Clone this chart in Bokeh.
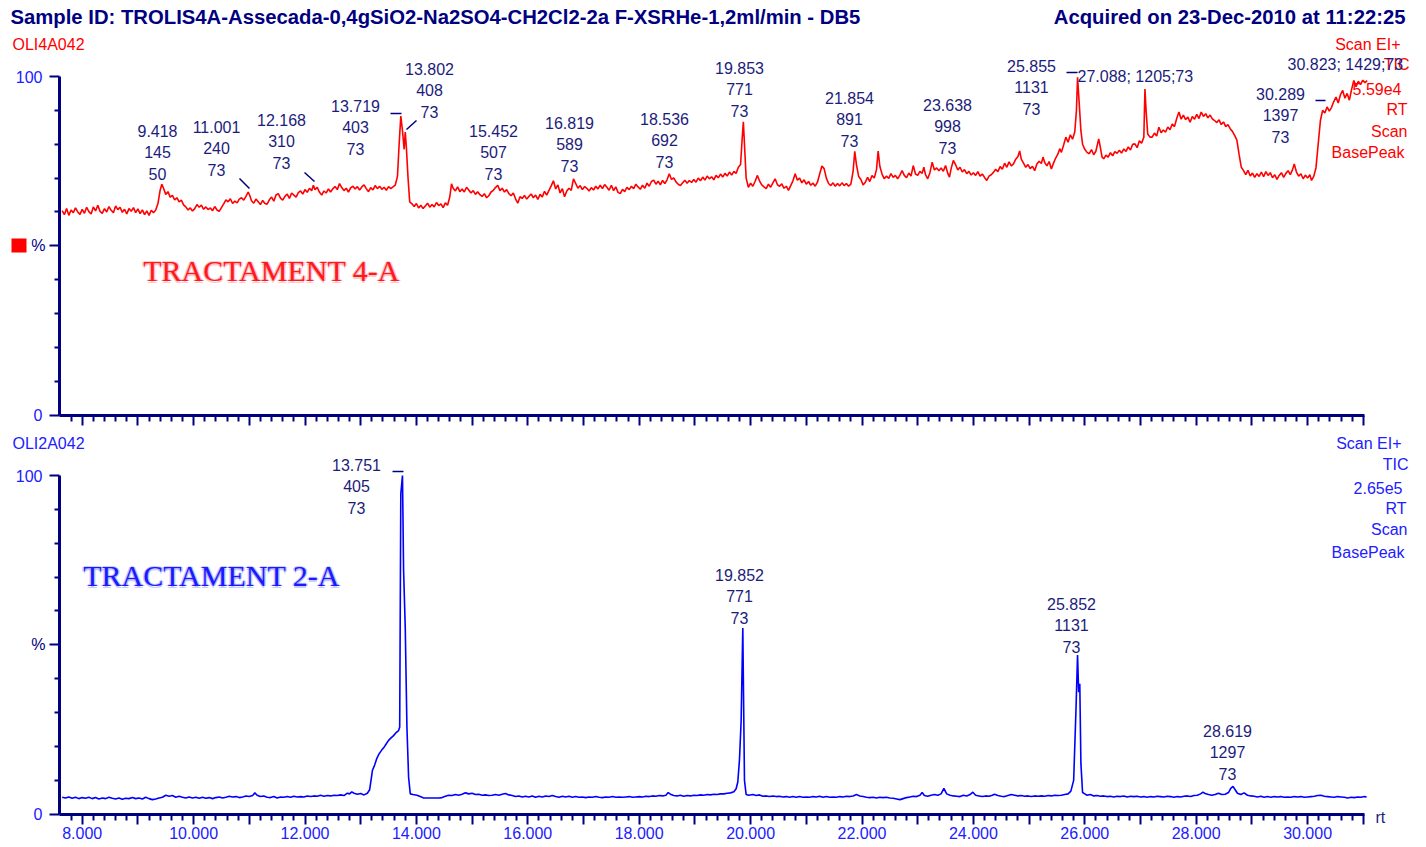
from bokeh.plotting import figure
from bokeh.models import Range1d, FixedTicker, Label, BoxAnnotation, LinearAxis
from bokeh.embed import file_html
from bokeh.resources import INLINE

# ---------------- data ----------------
rt_top = [7.64, 7.68, 7.72, 7.76, 7.80, 7.84, 7.88, 7.92, 7.96, 8.00, 8.04, 8.08, 8.12, 8.16, 8.20, 8.24, 8.28, 8.32,
          8.36, 8.40, 8.44, 8.48, 8.52, 8.56, 8.60, 8.64, 8.68, 8.72, 8.76, 8.80, 8.84, 8.88, 8.92, 8.96, 9.00, 9.04,
          9.08, 9.12, 9.16, 9.20, 9.24, 9.28, 9.32, 9.36, 9.40, 9.43, 9.46, 9.50, 9.54, 9.58, 9.62, 9.66, 9.70, 9.74,
          9.78, 9.82, 9.86, 9.90, 9.94, 9.98, 10.02, 10.06, 10.10, 10.14, 10.18, 10.22, 10.26, 10.30, 10.34, 10.38,
          10.42, 10.46, 10.50, 10.54, 10.58, 10.62, 10.66, 10.70, 10.74, 10.78, 10.82, 10.86, 10.90, 10.94, 10.98,
          11.01, 11.04, 11.08, 11.12, 11.16, 11.20, 11.24, 11.28, 11.32, 11.36, 11.40, 11.44, 11.48, 11.52, 11.56,
          11.60, 11.64, 11.68, 11.72, 11.76, 11.80, 11.84, 11.88, 11.92, 11.96, 12.00, 12.04, 12.08, 12.12, 12.15,
          12.18, 12.22, 12.26, 12.30, 12.34, 12.38, 12.42, 12.46, 12.50, 12.54, 12.58, 12.62, 12.66, 12.70, 12.74,
          12.78, 12.82, 12.86, 12.90, 12.94, 12.98, 13.02, 13.06, 13.10, 13.14, 13.18, 13.22, 13.26, 13.30, 13.34,
          13.38, 13.42, 13.46, 13.50, 13.54, 13.58, 13.62, 13.66, 13.69, 13.72, 13.75, 13.78, 13.80, 13.82, 13.85,
          13.88, 13.92, 13.96, 14.00, 14.04, 14.08, 14.12, 14.16, 14.20, 14.24, 14.28, 14.32, 14.36, 14.40, 14.44,
          14.48, 14.52, 14.56, 14.60, 14.63, 14.66, 14.70, 14.74, 14.78, 14.82, 14.86, 14.90, 14.94, 14.98, 15.02,
          15.06, 15.10, 15.14, 15.18, 15.22, 15.26, 15.30, 15.34, 15.38, 15.42, 15.46, 15.50, 15.54, 15.58, 15.62,
          15.66, 15.70, 15.74, 15.78, 15.82, 15.86, 15.90, 15.94, 15.98, 16.02, 16.06, 16.10, 16.14, 16.18, 16.22,
          16.26, 16.30, 16.34, 16.38, 16.42, 16.46, 16.50, 16.54, 16.58, 16.62, 16.66, 16.70, 16.74, 16.78, 16.82,
          16.86, 16.90, 16.94, 16.98, 17.02, 17.06, 17.10, 17.14, 17.18, 17.22, 17.26, 17.30, 17.34, 17.38, 17.42,
          17.46, 17.50, 17.54, 17.58, 17.62, 17.66, 17.70, 17.74, 17.78, 17.82, 17.86, 17.90, 17.94, 17.98, 18.02,
          18.06, 18.10, 18.14, 18.18, 18.22, 18.26, 18.30, 18.34, 18.38, 18.42, 18.46, 18.50, 18.54, 18.58, 18.62,
          18.66, 18.70, 18.74, 18.78, 18.82, 18.86, 18.90, 18.94, 18.98, 19.02, 19.06, 19.10, 19.14, 19.18, 19.22,
          19.26, 19.30, 19.34, 19.38, 19.42, 19.46, 19.50, 19.54, 19.58, 19.62, 19.66, 19.70, 19.74, 19.78, 19.82,
          19.85, 19.87, 19.89, 19.92, 19.96, 20.00, 20.04, 20.08, 20.12, 20.16, 20.20, 20.24, 20.28, 20.32, 20.36,
          20.40, 20.44, 20.48, 20.52, 20.56, 20.60, 20.64, 20.68, 20.72, 20.76, 20.80, 20.84, 20.88, 20.92, 20.96,
          21.00, 21.04, 21.08, 21.12, 21.16, 21.20, 21.24, 21.28, 21.32, 21.36, 21.40, 21.44, 21.48, 21.52, 21.56,
          21.60, 21.64, 21.68, 21.72, 21.76, 21.80, 21.84, 21.87, 21.90, 21.94, 21.98, 22.02, 22.06, 22.10, 22.14,
          22.18, 22.22, 22.26, 22.29, 22.32, 22.36, 22.40, 22.44, 22.48, 22.52, 22.56, 22.60, 22.64, 22.68, 22.72,
          22.76, 22.80, 22.84, 22.88, 22.92, 22.96, 23.00, 23.04, 23.08, 23.11, 23.14, 23.18, 23.22, 23.26, 23.30,
          23.34, 23.38, 23.42, 23.46, 23.50, 23.54, 23.57, 23.60, 23.64, 23.68, 23.72, 23.76, 23.80, 23.84, 23.88,
          23.92, 23.96, 24.00, 24.04, 24.08, 24.12, 24.16, 24.20, 24.24, 24.28, 24.32, 24.36, 24.40, 24.44, 24.48,
          24.52, 24.56, 24.60, 24.64, 24.68, 24.72, 24.76, 24.80, 24.83, 24.86, 24.90, 24.94, 24.98, 25.02, 25.06,
          25.10, 25.14, 25.18, 25.22, 25.25, 25.28, 25.32, 25.36, 25.40, 25.44, 25.48, 25.52, 25.55, 25.58, 25.62,
          25.66, 25.70, 25.74, 25.78, 25.82, 25.85, 25.87, 25.90, 25.93, 25.96, 26.00, 26.04, 26.08, 26.12, 26.16,
          26.20, 26.25, 26.28, 26.31, 26.34, 26.38, 26.42, 26.46, 26.50, 26.54, 26.58, 26.62, 26.66, 26.70, 26.74,
          26.78, 26.82, 26.86, 26.90, 26.94, 26.98, 27.02, 27.06, 27.08, 27.10, 27.13, 27.17, 27.21, 27.25, 27.29,
          27.33, 27.37, 27.41, 27.45, 27.49, 27.53, 27.57, 27.61, 27.65, 27.69, 27.73, 27.77, 27.81, 27.85, 27.89,
          27.93, 27.97, 28.01, 28.05, 28.09, 28.13, 28.17, 28.21, 28.25, 28.29, 28.33, 28.37, 28.41, 28.45, 28.49,
          28.53, 28.57, 28.61, 28.65, 28.69, 28.73, 28.77, 28.81, 28.85, 28.89, 28.93, 28.97, 29.01, 29.05, 29.09,
          29.13, 29.17, 29.21, 29.25, 29.29, 29.33, 29.37, 29.41, 29.45, 29.49, 29.53, 29.57, 29.61, 29.65, 29.69,
          29.73, 29.76, 29.80, 29.84, 29.88, 29.92, 29.96, 30.00, 30.04, 30.07, 30.11, 30.15, 30.19, 30.23, 30.27,
          30.31, 30.35, 30.39, 30.43, 30.47, 30.51, 30.55, 30.59, 30.63, 30.67, 30.71, 30.75, 30.79, 30.83, 30.87,
          30.91, 30.95, 30.99, 31.03, 31.07]
tic_top = [60.4, 59.2, 61.0, 59.0, 60.6, 59.8, 61.2, 60.0, 59.3, 60.8, 59.6, 61.4, 60.1, 59.4, 61.5, 60.3, 62.0, 60.2,
           59.6, 61.0, 60.0, 61.6, 60.5, 59.8, 61.8, 60.7, 61.4, 59.9, 60.8, 59.4, 61.0, 60.2, 61.3, 59.8, 60.9, 59.5,
           60.6, 59.2, 60.3, 59.0, 60.5, 59.8, 60.6, 62.5, 66.5, 68.2, 67.0, 65.2, 66.0, 64.4, 64.9, 63.6, 64.2, 63.0,
           63.5, 62.1, 61.5, 60.6, 61.2, 60.3, 61.0, 62.2, 61.4, 62.0, 60.8, 61.5, 60.7, 61.2, 60.4, 61.6,
           60.6, 60.2, 61.3, 62.4, 63.6, 63.0, 63.9, 62.5, 63.2, 62.7, 63.8, 64.2, 63.5, 64.6, 65.9,
           64.8, 63.3, 62.6, 63.8, 63.0, 62.2, 63.4, 62.5, 62.3, 63.6, 64.4, 63.2, 65.0, 65.4, 64.1,
           63.5, 64.6, 65.3, 64.0, 65.6, 65.0, 64.4, 65.7, 66.2, 65.3, 66.6, 65.8, 67.0, 66.3, 67.9,
           66.6, 67.3, 65.8, 65.0, 66.2, 65.6, 66.8, 65.9, 66.9, 67.5, 66.6, 68.4, 67.2, 66.3, 67.0,
           65.9, 67.1, 67.6, 66.8, 67.5, 66.5, 67.4, 68.0, 66.9, 66.0, 67.2, 66.5, 67.8, 66.9, 67.6,
           66.7, 67.3, 66.4, 67.5, 66.9, 67.4, 67.9, 70.5, 80.0, 88.3, 84.0, 78.5, 83.6, 79.0, 70.0,
           63.0, 62.4, 61.6, 62.5, 61.2, 62.0, 61.0, 61.8, 62.6, 61.4, 62.2, 61.5, 62.8, 61.9, 62.4,
           61.3, 62.7, 62.0, 64.5, 68.3, 67.0, 66.2, 67.4, 66.0, 66.8, 65.9, 67.3, 66.5, 65.6, 66.3,
           65.2, 66.0, 65.1, 64.6, 65.4, 64.2, 64.8, 65.9, 66.4, 67.2, 67.9, 66.3, 67.0, 65.9, 66.6,
           65.4, 64.8, 65.6, 63.9, 62.6, 64.5, 64.0, 64.9, 63.8, 64.6, 65.3, 64.2, 65.0, 63.7, 65.2,
           64.4, 66.1, 65.0, 66.4, 67.7, 69.2, 66.8, 68.0, 65.6, 66.9, 64.5, 66.2, 67.0, 66.4, 69.8,
           68.4, 67.0, 67.8, 66.6, 67.5, 67.0, 66.2, 67.2, 66.5, 67.6, 66.8, 67.9, 66.9, 68.1, 67.3,
           66.4, 67.9, 66.3, 67.4, 65.8, 65.4, 66.7, 66.0, 67.3, 66.6, 67.6, 66.9, 68.2, 67.4, 66.7,
           67.9, 67.0, 68.5, 67.6, 69.0, 69.4, 68.2, 69.1, 68.0, 69.3, 68.4, 69.5, 71.3, 69.6, 70.1,
           68.9, 68.2, 67.8, 68.6, 69.4, 68.5, 69.3, 68.7, 69.6, 68.8, 70.0, 69.2, 70.3, 69.4, 70.6,
           69.8, 70.4, 69.5, 70.8, 70.1, 71.2, 70.3, 71.4, 70.6, 71.8, 70.9, 72.0, 71.4, 73.2, 74.0,
           82.0, 86.6, 80.0, 70.0, 67.3, 68.5, 67.6, 69.0, 70.8, 69.2, 68.0, 67.4, 66.9, 68.2, 67.3,
           68.6, 69.8, 68.1, 67.6, 68.3, 67.0, 67.6, 66.4, 67.8, 69.2, 71.3, 69.4, 70.0, 68.6, 69.5,
           68.2, 69.0, 67.9, 68.5, 67.6, 68.8, 71.2, 73.6, 72.8, 70.0, 68.4, 67.8, 68.6, 67.6, 68.4,
           67.7, 68.6, 67.8, 68.4, 67.6, 68.2, 72.0, 77.9, 74.0, 70.5, 69.6, 68.0, 68.8, 70.2, 69.0,
           70.8, 70.0, 72.5, 78.0, 73.5, 71.2, 69.8, 70.6, 69.9, 71.3, 70.2, 70.8, 69.8, 70.9, 72.2,
           70.8, 70.1, 71.5, 70.6, 73.7, 71.2, 70.8, 72.0, 71.4, 73.2, 71.0, 69.8, 71.6, 74.7, 72.4,
           73.0, 72.2, 73.0, 72.0, 73.7, 71.4, 70.3, 72.8, 75.2, 74.0, 72.4, 73.2, 71.8, 72.5, 71.3,
           72.0, 70.9, 71.6, 70.8, 71.9, 70.6, 71.2, 70.2, 69.3, 70.6, 71.0, 71.7, 72.6, 71.9, 73.4,
           72.6, 74.4, 73.2, 74.8, 73.6, 74.2, 75.6, 76.4, 78.0, 75.6, 74.4, 73.2, 74.0, 72.8, 73.5,
           72.2, 74.2, 75.0, 74.3, 76.2, 74.6, 73.6, 74.9, 72.7, 74.5, 76.0, 77.2, 78.7, 77.6, 79.8,
           82.1, 80.6, 82.8, 81.5, 83.6, 90.0, 99.8, 92.0, 84.0, 80.0, 78.5, 77.6, 77.2, 78.4, 76.9,
           78.0, 81.6, 79.0, 76.2, 75.7, 76.8, 76.2, 77.5, 76.6, 77.8, 77.3, 78.2, 77.4, 78.6, 77.9,
           79.2, 78.3, 80.0, 80.1, 79.0, 81.0, 80.3, 82.1, 96.3, 90.0, 83.0, 82.1, 82.1, 83.3, 82.4,
           85.0, 83.4, 84.2, 83.6, 85.1, 84.3, 86.0, 85.2, 87.6, 89.5, 87.4, 88.6, 87.3, 88.0, 86.5,
           88.2, 87.4, 88.8, 87.6, 89.5, 88.2, 89.0, 87.8, 88.6, 87.5, 87.0, 86.4, 87.2, 85.8, 86.6,
           85.2, 85.8, 84.6, 83.8, 82.6, 81.2, 77.0, 73.2, 72.2, 71.0, 72.3, 70.6, 71.5, 70.2, 71.3,
           70.5, 71.8, 70.4, 71.9, 70.8, 71.6, 70.1, 71.0, 69.6, 70.8, 71.6, 70.2, 71.4, 72.2, 71.0,
           72.5, 74.2, 71.8, 70.6, 71.3, 69.8, 70.9, 70.0, 71.0, 69.3, 70.5, 73.0, 80.0, 87.0, 90.0,
           89.2, 91.0, 89.8, 90.9, 92.6, 93.9, 92.2, 94.6, 95.9, 93.6, 95.0, 93.0, 96.2, 98.8, 97.0,
           98.6, 97.6, 98.9, 98.2, 98.8]

rt_bottom = [7.64, 7.70, 7.76, 7.82, 7.88, 7.94, 8.00, 8.06, 8.12, 8.18, 8.24, 8.30, 8.36, 8.42, 8.48, 8.54, 8.60,
             8.66, 8.72, 8.78, 8.84, 8.90, 8.96, 9.02, 9.08, 9.14, 9.20, 9.26, 9.32, 9.38, 9.44, 9.50, 9.56, 9.62,
             9.68, 9.74, 9.80, 9.86, 9.92, 9.98, 10.04, 10.10, 10.16, 10.22, 10.28, 10.34, 10.40, 10.46, 10.52,
             10.58, 10.64, 10.70, 10.76, 10.82, 10.88, 10.94, 11.00, 11.06, 11.10, 11.14, 11.20, 11.26, 11.32,
             11.38, 11.44, 11.50, 11.56, 11.62, 11.68, 11.74, 11.80, 11.86, 11.92, 11.98, 12.04, 12.10, 12.16,
             12.22, 12.28, 12.34, 12.40, 12.46, 12.52, 12.58, 12.64, 12.70, 12.76, 12.80, 12.84, 12.88, 12.94,
             13.00, 13.06, 13.12, 13.16, 13.19, 13.21, 13.25, 13.29, 13.33, 13.38, 13.42, 13.46, 13.50, 13.55,
             13.59, 13.63, 13.68, 13.70, 13.72, 13.75, 13.77, 13.80, 13.83, 13.86, 13.89, 13.94, 14.01, 14.07,
             14.13, 14.20, 14.30, 14.40, 14.46, 14.52, 14.58, 14.64, 14.70, 14.76, 14.82, 14.88, 14.94, 15.00,
             15.06, 15.12, 15.18, 15.24, 15.30, 15.36, 15.42, 15.48, 15.54, 15.60, 15.66, 15.72, 15.78, 15.84,
             15.90, 15.96, 16.02, 16.08, 16.14, 16.20, 16.26, 16.32, 16.38, 16.44, 16.50, 16.56, 16.62, 16.68,
             16.74, 16.80, 16.86, 16.92, 16.98, 17.04, 17.10, 17.16, 17.22, 17.28, 17.34, 17.40, 17.46, 17.52,
             17.58, 17.64, 17.70, 17.76, 17.82, 17.88, 17.94, 18.00, 18.06, 18.12, 18.18, 18.24, 18.30, 18.36,
             18.42, 18.48, 18.52, 18.56, 18.62, 18.68, 18.74, 18.80, 18.86, 18.92, 18.98, 19.04, 19.10, 19.16,
             19.22, 19.28, 19.34, 19.40, 19.46, 19.52, 19.58, 19.64, 19.70, 19.74, 19.77, 19.80, 19.83, 19.86,
             19.89, 19.92, 19.97, 20.04, 20.10, 20.16, 20.22, 20.28, 20.34, 20.40, 20.46, 20.52, 20.58, 20.64,
             20.70, 20.76, 20.82, 20.88, 20.94, 21.00, 21.06, 21.12, 21.18, 21.24, 21.30, 21.36, 21.42, 21.48,
             21.54, 21.60, 21.66, 21.72, 21.78, 21.84, 21.90, 21.96, 22.02, 22.08, 22.14, 22.20, 22.26, 22.32,
             22.38, 22.44, 22.50, 22.56, 22.62, 22.68, 22.74, 22.80, 22.86, 22.92, 22.98, 23.04, 23.08, 23.12,
             23.18, 23.24, 23.30, 23.36, 23.42, 23.47, 23.52, 23.58, 23.64, 23.70, 23.76, 23.82, 23.88, 23.94,
             23.99, 24.04, 24.10, 24.16, 24.22, 24.28, 24.34, 24.38, 24.44, 24.50, 24.56, 24.62, 24.68, 24.74,
             24.80, 24.86, 24.92, 24.98, 25.04, 25.10, 25.16, 25.22, 25.28, 25.34, 25.40, 25.46, 25.52, 25.58,
             25.64, 25.70, 25.75, 25.80, 25.84, 25.87, 25.89, 25.91, 25.93, 25.96, 26.00, 26.04, 26.10, 26.16,
             26.22, 26.28, 26.34, 26.40, 26.46, 26.52, 26.58, 26.64, 26.70, 26.76, 26.82, 26.88, 26.94, 27.00,
             27.06, 27.12, 27.18, 27.24, 27.30, 27.36, 27.42, 27.48, 27.54, 27.60, 27.66, 27.72, 27.78, 27.84,
             27.90, 27.96, 28.02, 28.08, 28.12, 28.16, 28.22, 28.28, 28.34, 28.40, 28.46, 28.52, 28.58, 28.62,
             28.66, 28.70, 28.74, 28.80, 28.86, 28.92, 28.98, 29.04, 29.10, 29.16, 29.22, 29.28, 29.34, 29.40,
             29.46, 29.52, 29.58, 29.64, 29.70, 29.76, 29.82, 29.88, 29.94, 30.00, 30.06, 30.12, 30.18, 30.24,
             30.30, 30.36, 30.42, 30.48, 30.54, 30.60, 30.66, 30.72, 30.78, 30.84, 30.90, 30.96, 31.02, 31.06]
tic_bottom = [5.0, 4.8, 5.1, 4.7, 5.0, 4.6, 4.9, 4.7, 5.0, 4.6, 4.9, 4.5, 4.8, 4.6, 5.0, 4.7, 4.5,
              4.8, 4.4, 4.7, 4.6, 4.9, 4.6, 4.8, 4.5, 5.0, 4.6, 4.3, 4.5, 4.8, 5.0, 5.6, 5.3, 5.5,
              5.0, 5.3, 5.0, 4.8, 5.1, 4.8, 5.0, 4.7, 5.0, 4.7, 4.9, 4.6, 4.9, 5.1, 4.8,
              5.0, 5.3, 5.1, 5.2, 4.9, 5.1, 5.4, 5.2, 5.5, 6.3, 5.6, 5.2, 5.4, 5.0,
              4.9, 5.2, 4.8, 5.1, 5.0, 5.2, 5.0, 5.3, 5.1, 5.2, 5.1, 5.4, 5.2, 5.4,
              5.3, 5.6, 5.3, 5.5, 5.4, 5.6, 5.5, 5.7, 5.5, 6.2, 6.0, 6.6, 6.2, 5.9,
              6.1, 5.7, 6.2, 7.2, 10.5, 12.9, 14.5, 16.5, 17.8, 19.0, 19.8, 20.8, 21.8, 22.6,
              23.2, 24.0, 24.7, 25.7, 94.6, 100.0, 72.0, 55.0, 25.7, 10.9, 6.0, 5.8, 5.6, 5.2,
              4.8, 4.8, 4.8, 4.8, 4.9, 5.3, 5.6, 5.5, 5.8, 5.6, 5.9, 6.3, 6.0, 6.2,
              5.8, 5.9, 5.6, 5.7, 5.5, 5.6, 5.8, 5.6, 5.9, 6.1, 5.7, 5.5, 5.2, 5.4,
              5.1, 5.3, 5.1, 5.4, 5.0, 5.3, 5.1, 5.4, 5.2, 5.5, 5.2, 5.0, 5.3, 5.1,
              5.3, 5.0, 5.2, 5.0, 5.1, 4.9, 5.1, 5.0, 5.2, 5.0, 4.9, 5.1, 5.0, 5.2,
              5.0, 5.1, 5.0, 5.1, 5.2, 5.0, 5.1, 5.2, 5.1, 5.3, 5.2, 5.4, 5.3, 5.5,
              5.4, 5.6, 6.4, 5.9, 5.5, 5.4, 5.6, 5.3, 5.5, 5.4, 5.6, 5.5, 5.7, 5.6,
              5.8, 5.7, 5.9, 5.8, 6.0, 6.0, 6.2, 6.3, 6.6, 7.5, 9.5, 16.0, 27.5, 55.0,
              10.0, 5.8, 5.6, 5.8, 5.5, 5.7, 5.3, 5.4, 5.2, 5.4, 5.2, 5.3, 5.1, 5.2,
              5.0, 5.2, 5.0, 5.2, 5.0, 5.1, 5.0, 5.2, 5.1, 5.3, 5.0, 5.2, 5.0, 5.1,
              5.0, 5.2, 5.1, 5.3, 5.2, 5.4, 5.8, 5.4, 5.2, 5.0, 4.9, 5.0, 4.8, 5.0,
              4.9, 5.0, 4.8, 4.7, 4.5, 4.3, 4.6, 4.9, 5.1, 5.3, 5.2, 5.6, 6.4, 5.5,
              5.3, 5.6, 5.8, 5.6, 6.0, 7.6, 6.0, 5.6, 5.4, 5.3, 5.2, 5.6, 5.4, 5.8,
              6.5, 5.6, 5.4, 5.2, 5.4, 5.3, 5.6, 5.9, 5.5, 5.3, 5.2, 5.5, 5.8, 5.6,
              5.4, 5.5, 5.3, 5.4, 5.2, 5.4, 5.3, 5.4, 5.3, 5.5, 5.4, 5.6, 5.5, 5.6,
              5.8, 6.0, 6.8, 10.0, 30.0, 47.0, 36.0, 38.5, 15.0, 6.4, 6.0, 5.6, 5.8, 5.4,
              5.5, 5.3, 5.4, 5.2, 5.3, 5.1, 5.3, 5.2, 5.4, 5.1, 5.3, 5.2, 5.3, 5.1,
              5.2, 5.0, 5.2, 5.1, 5.3, 5.2, 5.1, 5.3, 5.2, 5.0, 5.2, 5.1, 5.3, 5.4,
              5.2, 5.5, 5.6, 6.0, 6.5, 6.1, 5.8, 5.6, 5.8, 6.2, 5.8, 5.9, 6.4, 7.6,
              8.2, 7.2, 6.2, 5.8, 6.3, 5.6, 5.4, 5.3, 5.1, 5.3, 5.0, 5.2, 5.0, 5.2,
              5.1, 5.2, 5.0, 5.1, 5.0, 5.2, 5.1, 5.2, 5.0, 5.1, 5.2, 5.3, 5.5, 5.6,
              5.3, 5.2, 5.1, 5.0, 5.2, 5.1, 5.0, 4.8, 5.0, 4.9, 5.1, 5.0, 5.2, 5.1]

x_label_values = [8, 10, 12, 14, 16, 18, 20, 22, 24, 26, 28, 30]
x_label_texts = ["8.000", "10.000", "12.000", "14.000", "16.000", "18.000", "20.000", "22.000", "24.000",
                 "26.000", "28.000", "30.000"]
x_unlabeled_values = [9, 11, 13, 15, 17, 19, 21, 23, 25, 27, 29, 31]
y_label_values = [0, 100]
y_label_texts = ["0", "100"]
y_percent_value = 50

top_peak_rt = ["9.418", "11.001", "12.168", "13.719", "13.802", "15.452", "16.819", "18.536", "19.853",
               "21.854", "23.638", "25.855", "30.289"]
top_peak_scan = ["145", "240", "310", "403", "408", "507", "589", "692", "771", "891", "998", "1131", "1397"]
top_peak_mass = ["50", "73", "73", "73", "73", "73", "73", "73", "73", "73", "73", "73", "73"]
top_inline_labels = ["27.088; 1205;73", "30.823; 1429;73"]
bottom_peak_rt = ["13.751", "19.852", "25.852", "28.619"]
bottom_peak_scan = ["405", "771", "1131", "1297"]
bottom_peak_mass = ["73", "73", "73", "73"]
info_top = ["Scan EI+", "TIC", "5.59e4", "RT", "Scan", "BasePeak"]
info_bottom = ["Scan EI+", "TIC", "2.65e5", "RT", "Scan", "BasePeak"]

title_left = "Sample ID: TROLIS4A-Assecada-0,4gSiO2-Na2SO4-CH2Cl2-2a F-XSRHe-1,2ml/min - DB5"
title_right = "Acquired on 23-Dec-2010 at 11:22:25"

# ---------------- layout (pixel positions on the page, from the reference) ----------------
top_label_pos = [(157, 130), (216, 126), (281, 119), (355, 105), (429, 68), (493, 130), (569, 122),
                 (664, 118), (739, 67), (849, 97), (947, 104), (1031, 65), (1280, 93)]
top_inline_pos = [(1077, 76), (1287, 64)]
bottom_label_pos = [(356, 464), (739, 574), (1071, 603), (1227, 730)]
info_top_pos = [(1400, 44), (1409, 64), (1401, 88), (1407, 109), (1407, 131), (1404, 152)]
info_bottom_pos = [(1401, 443), (1408, 464), (1402, 487), (1406, 508), (1407, 529), (1404, 552)]
top_marks = [(239, 178, 249, 188), (304, 172, 314, 181), (390, 113, 401, 113), (406, 129, 416, 120),
             (1066, 72, 1077, 72), (1315, 100, 1325, 100)]
bottom_marks = [(392, 471, 403, 471)]

W, H = 1426, 847
PXU = 55.7                 # pixels per minute
PX8 = 81.7                 # page x of 8.0 min
AXIS_PX = 59               # page x of the y axes
TOP0, TOP100 = 414.7, 76.0
BOT0, BOT100 = 813.7, 475.0
LINE = 21.7

NAVY = "#000080"
ANN = "#1c1c7c"
BLUE = "#2020ff"
RED = "#ff0000"
FONT = "Liberation Sans"


def xd(px):
    return 8 + (px - PX8) / PXU


def yt(py):
    return (TOP0 - py) * 100.0 / (TOP0 - TOP100)


def yb(py):
    return (BOT0 - py) * 100.0 / (BOT0 - BOT100)


X0 = xd(AXIS_PX)
AX_END = 31.02

p = figure(width=W, height=H, x_range=Range1d(xd(0), xd(W)), y_range=Range1d(yt(H), yt(0)),
           x_axis_location=None, y_axis_location=None, output_backend="svg", toolbar_location=None,
           title=None, min_border=0, min_border_left=0, min_border_right=0, min_border_top=0,
           min_border_bottom=0)
p.extra_y_ranges = {"bot": Range1d(yb(H), yb(0))}
p.outline_line_color = None
p.xgrid.visible = False
p.ygrid.visible = False
p.background_fill_color = "white"
p.border_fill_color = "white"

minor_x = [round(7.8 + 0.2 * i, 1) for i in range(0, 117)]
minor_x = [m for m in minor_x if abs(m - round(m)) > 1e-6]


def tick_style(ax, major_out, minor_out):
    ax.axis_line_color = NAVY
    ax.axis_line_width = 3
    ax.major_tick_line_color = NAVY
    ax.major_tick_line_width = 2
    ax.major_tick_out = major_out
    ax.major_tick_in = 0
    ax.minor_tick_line_color = NAVY
    ax.minor_tick_line_width = 2
    ax.minor_tick_out = minor_out
    ax.minor_tick_in = 0
    ax.major_label_text_font = FONT
    ax.major_label_text_font_size = "16px"


def add_x_axes(range_name, labelled):
    a = LinearAxis(y_range_name=range_name, fixed_location=0, bounds=(X0, AX_END))
    b = LinearAxis(y_range_name=range_name, fixed_location=0, bounds=(X0, AX_END))
    tick_style(a, 10, 6)
    tick_style(b, 10, 6)
    b.axis_line_color = None
    a.ticker = FixedTicker(ticks=x_label_values, minor_ticks=minor_x)
    b.ticker = FixedTicker(ticks=x_unlabeled_values, minor_ticks=[])
    if labelled:
        a.major_label_overrides = {v: t for v, t in zip(x_label_values, x_label_texts)}
        a.major_label_text_color = BLUE
        a.major_label_standoff = 3
    else:
        a.major_label_text_color = None
    b.major_label_text_color = None
    p.add_layout(a, "below")
    p.add_layout(b, "below")


def add_y_axes(range_name):
    a = LinearAxis(y_range_name=range_name, fixed_location=X0, bounds=(0, 100))
    tick_style(a, 10, 5)
    a.ticker = FixedTicker(ticks=y_label_values, minor_ticks=[10, 20, 30, 40, 60, 70, 80, 90])
    a.major_label_overrides = {v: t for v, t in zip(y_label_values, y_label_texts)}
    a.major_label_text_color = BLUE
    a.major_label_standoff = 7
    b = LinearAxis(y_range_name=range_name, fixed_location=X0, bounds=(0, 100))
    tick_style(b, 10, 5)
    b.axis_line_color = None
    b.ticker = FixedTicker(ticks=[y_percent_value], minor_ticks=[])
    b.major_label_overrides = {y_percent_value: "%"}
    b.major_label_text_color = NAVY
    b.major_label_standoff = 4
    p.add_layout(a, "left")
    p.add_layout(b, "left")


add_x_axes("default", False)
add_x_axes("bot", True)
add_y_axes("default")
add_y_axes("bot")


def text(x, y, s, color, size="16px", align="center", font=FONT, style="normal",
         xoff=0, yoff=0, alpha=1.0, rng="default"):
    p.add_layout(Label(x=x, y=y, text=s, text_color=color, text_font_size=size, text_align=align,
                       text_baseline="middle", text_font=font, text_font_style=style,
                       x_offset=xoff, y_offset=yoff, text_alpha=alpha, y_range_name=rng))


def glow_text(x, y, s, color, glow, rng):
    for dx, dy in [(-1.5, 0), (1.5, 0), (0, -1.5), (0, 1.5)]:
        text(x, y, s, glow, size="30px", font="Liberation Serif", xoff=dx, yoff=dy, alpha=0.55, rng=rng)
    text(x, y, s, color, size="30px", font="Liberation Serif", rng=rng)


# ---------------- traces ----------------
p.line(rt_top, tic_top, line_color=RED, line_width=1.6)
p.line(rt_bottom, tic_bottom, line_color="#0000ff", line_width=1.6, y_range_name="bot")

# ---------------- header ----------------
text(xd(10), yt(16), title_left, NAVY, size="20.3px", align="left", style="bold")
text(xd(1405), yt(16), title_right, NAVY, size="20.3px", align="right", style="bold")

# ---------------- top panel texts ----------------
text(xd(12), yt(44), "OLI4A042", RED, align="left")
p.add_layout(BoxAnnotation(left=xd(11), right=xd(26), top=yt(238), bottom=yt(252),
                           fill_color=RED, fill_alpha=1.0, line_color=None))
for s, (px, py) in zip(info_top, info_top_pos):
    text(xd(px), yt(py), s, RED, align="right")
for a, b, c, (px, py) in zip(top_peak_rt, top_peak_scan, top_peak_mass, top_label_pos):
    for k, s in enumerate((a, b, c)):
        text(xd(px), yt(py + k * LINE), s, ANN)
for s, (px, py) in zip(top_inline_labels, top_inline_pos):
    text(xd(px), yt(py), s, ANN, align="left")
p.segment(x0=[xd(m[0]) for m in top_marks], y0=[yt(m[1]) for m in top_marks],
          x1=[xd(m[2]) for m in top_marks], y1=[yt(m[3]) for m in top_marks],
          line_color=NAVY, line_width=1.5)
glow_text(xd(271), yt(270), "TRACTAMENT 4-A", "#ff1a1a", "#ff9aa8", "default")

# ---------------- bottom panel texts ----------------
text(xd(12), yb(443), "OLI2A042", BLUE, align="left", rng="bot")
for s, (px, py) in zip(info_bottom, info_bottom_pos):
    text(xd(px), yb(py), s, BLUE, align="right", rng="bot")
for a, b, c, (px, py) in zip(bottom_peak_rt, bottom_peak_scan, bottom_peak_mass, bottom_label_pos):
    for k, s in enumerate((a, b, c)):
        text(xd(px), yb(py + k * LINE), s, ANN, rng="bot")
p.segment(x0=[xd(m[0]) for m in bottom_marks], y0=[yb(m[1]) for m in bottom_marks],
          x1=[xd(m[2]) for m in bottom_marks], y1=[yb(m[3]) for m in bottom_marks],
          line_color=NAVY, line_width=1.5, y_range_name="bot")
text(xd(1375), yb(817), "rt", ANN, align="left", rng="bot")
glow_text(xd(211), yb(575), "TRACTAMENT 2-A", "#1a1aff", "#9aa0ff", "bot")

open("out.html", "w").write(file_html(p, INLINE))
